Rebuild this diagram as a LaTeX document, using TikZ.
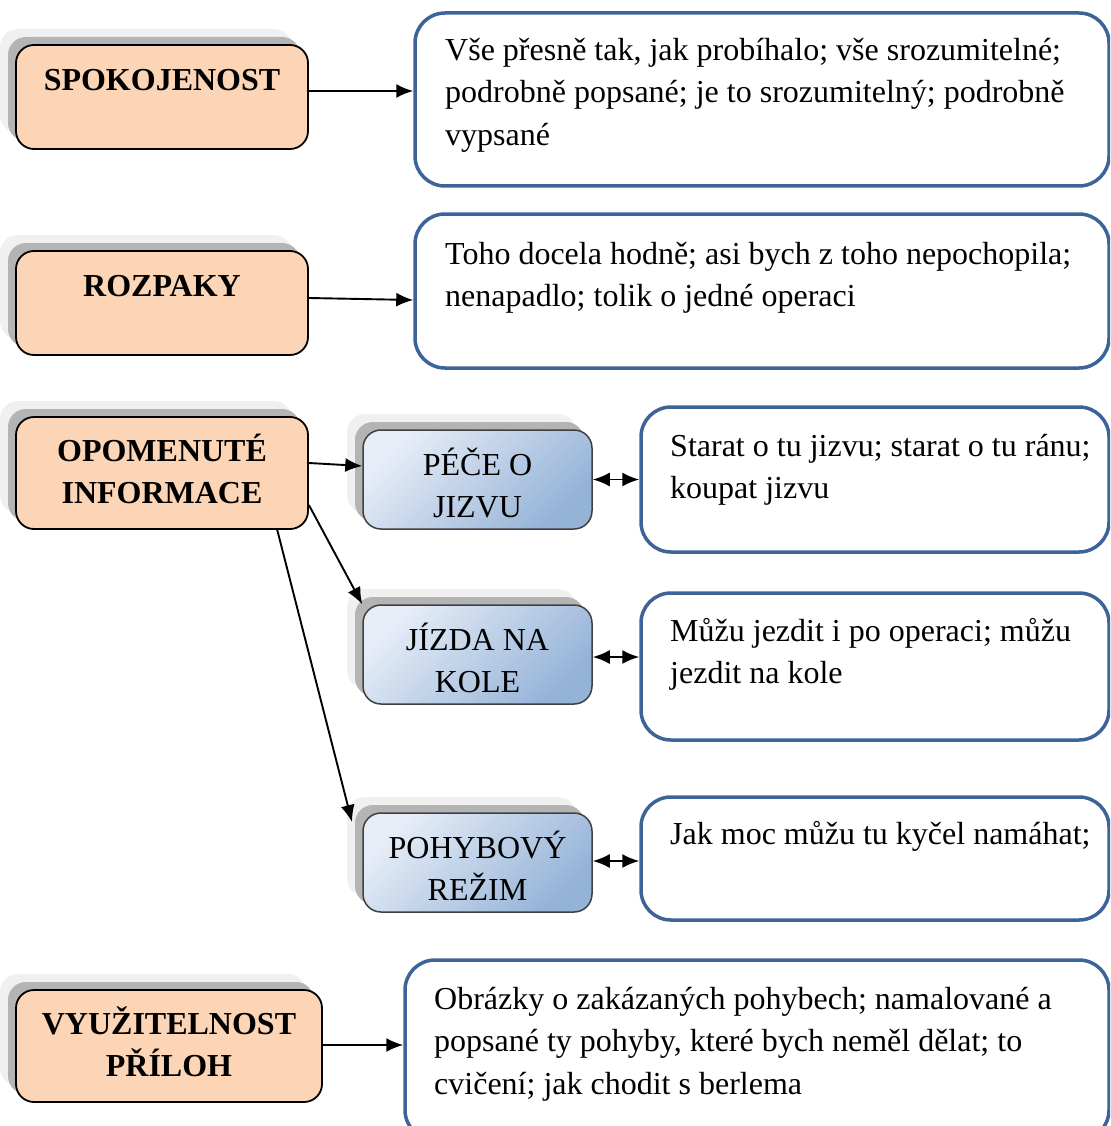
\documentclass[tikz,border=0pt]{standalone}
\usepackage{fontspec}
\setmainfont{Liberation Serif}
\usetikzlibrary{shadows,arrows.meta}

\definecolor{peach}{HTML}{FBD5B5}
\definecolor{paleblue}{HTML}{E6EDF7}
\definecolor{midblue}{HTML}{95B3D7}
\definecolor{frameblue}{HTML}{3C6499}
\definecolor{shadowdark}{HTML}{B4B4B4}
\definecolor{shadowlight}{HTML}{F0F0F0}

\tikzset{
  twoshadows/.style={
    copy shadow={shadow xshift=-16pt, shadow yshift=16pt, fill=shadowlight, draw=none},
    copy shadow={shadow xshift=-8pt, shadow yshift=8pt, fill=shadowdark, draw=none}},
  obox/.style={draw=black, line width=1.8pt, fill=peach, rounded corners=18pt,
    twoshadows, inner sep=0pt},
  bbox/.style={draw=black!75, line width=1.5pt, rounded corners=18pt,
    top color=paleblue, bottom color=midblue, shading angle=45,
    twoshadows, inner sep=0pt, minimum width=229pt, minimum height=99pt},
  rbox/.style={draw=frameblue, line width=3.5pt, rounded corners=30pt, inner sep=0pt},
  boldtxt/.style={font=\fontsize{32}{42}\selectfont\bfseries, align=center,
    inner sep=0pt, anchor=north},
  plaintxt/.style={font=\fontsize{32}{42}\selectfont, align=center,
    inner sep=0pt, anchor=north},
  bodytxt/.style={font=\fontsize{32}{42.5}\selectfont, align=left,
    inner sep=0pt, anchor=north west},
  link/.style={line width=1.9pt, -{Latex[length=17pt,width=14pt]}},
  twoway/.style={line width=1.9pt, {Latex[length=17pt,width=14pt]}-{Latex[length=17pt,width=14pt]}}
}

\begin{document}
\begin{tikzpicture}[x=1pt,y=-1pt]
\clip (0,0) rectangle (1110,1126);

% left column: categories
\node[obox, minimum width=292pt, minimum height=104pt] (spok) at (162,97) {};
\node[boldtxt] (spokT) at (162,90-29.4) {\strut SPOKOJENOST};

\node[obox, minimum width=292pt, minimum height=104pt] (rozp) at (162,303) {};
\node[boldtxt] (rozpT) at (162,296-29.4) {\strut ROZPAKY};

\node[obox, minimum width=292pt, minimum height=112pt] (opom) at (162,473) {};
\node[boldtxt] (opomT) at (162,461-29.4) {\strut OPOMENUTÉ\\INFORMACE};

\node[obox, minimum width=306pt, minimum height=112pt] (vyuz) at (169,1046) {};
\node[boldtxt] (vyuzT) at (169,1034-29.4) {\strut VYUŽITELNOST\\PŘÍLOH};

% middle column: subtopics
\node[bbox] (pece) at (477.5,479.5) {};
\node[plaintxt] (peceT) at (477.5,475-29.4) {\strut PÉČE O\\JIZVU};

\node[bbox] (jizda) at (477.5,654.5) {};
\node[plaintxt] (jizdaT) at (477.5,650-29.4) {\strut JÍZDA NA\\KOLE};

\node[bbox] (pohyb) at (477.5,862.5) {};
\node[plaintxt] (pohybT) at (477.5,858-29.4) {\strut POHYBOVÝ\\REŽIM};

% right column: statements
\node[rbox, minimum width=694pt, minimum height=173pt] (r1) at (762,99.5) {};
\node[bodytxt] (r1T) at (445,60-29.75) {\strut Vše přesně tak, jak probíhalo; vše srozumitelné;\\
podrobně popsané; je to srozumitelný; podrobně\\vypsané};

\node[rbox, minimum width=694pt, minimum height=154pt] (r2) at (762,291) {};
\node[bodytxt] (r2T) at (445,264-29.75) {\strut Toho docela hodně; asi bych z toho nepochopila;\\
nenapadlo; tolik o jedné operaci};

\node[rbox, minimum width=468pt, minimum height=145pt] (r3) at (875,479.5) {};
\node[bodytxt] (r3T) at (670,456-29.75) {\strut Starat o tu jizvu; starat o tu ránu;\\koupat jizvu};

\node[rbox, minimum width=468pt, minimum height=147pt] (r4) at (875,666.5) {};
\node[bodytxt] (r4T) at (670,641-29.75) {\strut Můžu jezdit i po operaci; můžu\\jezdit na kole};

\node[rbox, minimum width=468pt, minimum height=123pt] (r5) at (875,858.5) {};
\node[bodytxt] (r5T) at (670,844-29.75) {\strut Jak moc můžu tu kyčel namáhat;};

\node[rbox, minimum width=704pt, minimum height=180pt] (r6) at (757,1050) {};
\node[bodytxt] (r6T) at (434,1009-29.75) {\strut Obrázky o zakázaných pohybech; namalované a\\
popsané ty pohyby, které bych neměl dělat; to\\cvičení; jak chodit s berlema};

% connectors
\draw[link] (spok.east |- 0,91) -- (r1.west |- 0,91);
\draw[link] (spok.east |- 0,298) -- (r2.west |- 0,300);
\draw[link] (opom.east |- 0,463) -- (pece.west |- 0,466);
\draw[link] (opom.east |- 0,505) -- (jizda.north west);
\draw[link] (277,529) -- (352,822);
\draw[link] (vyuz.east |- 0,1045) -- (r6.west |- 0,1045);
\draw[twoway] (pece.east) -- (r3.west |- pece.east);
\draw[twoway] (jizda.east |- 0,657) -- (r4.west |- 0,657);
\draw[twoway] (pohyb.east |- 0,861) -- (r5.west |- 0,861);
\end{tikzpicture}
\end{document}
